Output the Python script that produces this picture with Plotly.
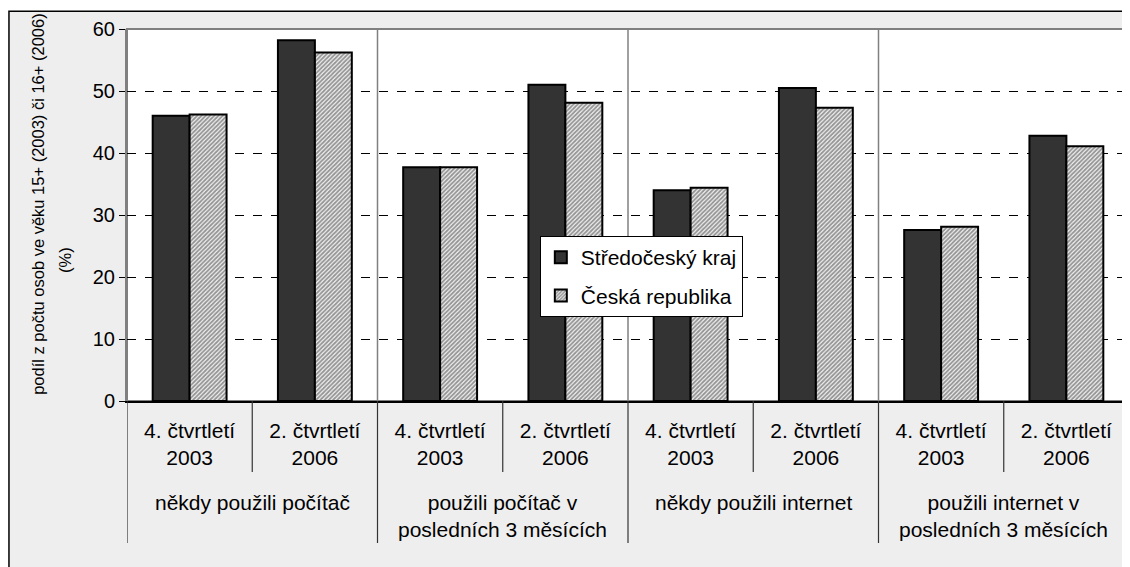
import plotly.graph_objects as go

series_names = ["Středočeský kraj", "Česká republika"]
stredocesky = [46.0, 58.2, 37.7, 51.0, 34.0, 50.5, 27.6, 42.8]
cr = [46.2, 56.2, 37.7, 48.1, 34.4, 47.3, 28.1, 41.1]
sub_labels = ["4. čtvrtletí<br>2003", "2. čtvrtletí<br>2006"] * 4
group_labels = ["někdy použili počítač",
                "použili počítač v<br>posledních 3 měsících",
                "někdy použili internet",
                "použili internet v<br>posledních 3 měsících"]
y_title_line1 = "podíl z počtu osob ve věku 15+ (2003) či 16+ (2006)"
y_title_line2 = "(%)"

x = list(range(len(stredocesky)))
FONT = "Liberation Sans, Arial, sans-serif"
FS = 21

fig = go.Figure()
fig.add_trace(go.Bar(
    x=x, y=stredocesky, name=series_names[0], legendgroup="a",
    marker=dict(color="#333333", line=dict(color="black", width=2)),
))
fig.add_trace(go.Bar(
    x=x, y=cr, name=series_names[1], legendgroup="b",
    marker=dict(color="white", line=dict(color="black", width=2),
                pattern=dict(shape="/", fgcolor="#333333", bgcolor="#f4f4f4",
                             size=3, solidity=0.62)),
))

shapes = []
shapes.append(dict(type="rect", xref="paper", yref="paper",
                   x0=-0.1178, x1=1.2, y0=-1.0, y1=1.048,
                   fillcolor="#eeeeee", line=dict(color="black", width=1.5),
                   layer="below"))
shapes.append(dict(type="rect", xref="paper", yref="paper",
                   x0=0, x1=1, y0=0, y1=1,
                   fillcolor="white", line=dict(color="#808080", width=2),
                   layer="below"))
n = len(x)
for i in range(0, n + 1, 2):
    xb = i - 0.5
    if 0 < i < n:
        shapes.append(dict(type="line", xref="x", yref="paper", x0=xb, x1=xb,
                           y0=0, y1=1, line=dict(color="#808080", width=1.5),
                           layer="below"))
    shapes.append(dict(type="line", xref="x", yref="paper", x0=xb, x1=xb,
                       y0=-0.3817, y1=0, line=dict(color="#333333", width=1.2)))
for i in range(1, n, 2):
    xb = i - 0.5
    shapes.append(dict(type="line", xref="x", yref="paper", x0=xb, x1=xb,
                       y0=-0.1909, y1=0, line=dict(color="#333333", width=1.2)))

annotations = []
for gi, g in enumerate(group_labels):
    annotations.append(dict(x=2 * gi + 0.5, y=-0.236, xref="x", yref="paper",
                            text=g, showarrow=False, yanchor="top",
                            xanchor="center", align="center",
                            font=dict(family=FONT, size=FS, color="black")))
annotations.append(dict(x=-0.0888, y=0.53, xref="paper", yref="paper",
                        text=y_title_line1, showarrow=False, textangle=-90,
                        xanchor="center", yanchor="middle",
                        font=dict(family=FONT, size=16.5, color="black")))
annotations.append(dict(x=-0.0619, y=0.379, xref="paper", yref="paper",
                        text=y_title_line2, showarrow=False, textangle=-90,
                        xanchor="center", yanchor="middle",
                        font=dict(family=FONT, size=16.5, color="black")))

fig.update_layout(
    width=1122, height=559,
    margin=dict(l=119, r=1, t=21, b=166),
    paper_bgcolor="white", plot_bgcolor="rgba(0,0,0,0)",
    barmode="group", bargap=0.41, bargroupgap=0,
    font=dict(family=FONT, size=FS, color="black"),
    shapes=shapes, annotations=annotations,
    legend=dict(x=0.412, y=0.4435, xanchor="left", yanchor="top",
                bgcolor="white", bordercolor="black", borderwidth=1,
                font=dict(family=FONT, size=FS, color="black"),
                tracegroupgap=8, traceorder="grouped", entrywidth=180),
    xaxis=dict(range=[-0.5, n - 0.5], tickmode="array", tickvals=x,
               ticktext=sub_labels, showgrid=False, zeroline=False,
               showline=True, linecolor="black", linewidth=1.5,
               ticks="", ticklabelstandoff=10,
               tickfont=dict(family=FONT, size=FS, color="black")),
    yaxis=dict(range=[0, 60], dtick=10, showgrid=True, gridcolor="black",
               gridwidth=1, griddash="dash", zeroline=False,
               showline=True, linecolor="#808080", linewidth=2,
               ticks="outside", ticklen=6, tickcolor="black",
               tickfont=dict(family=FONT, size=20, color="black")),
)

fig.write_html("out.html")
